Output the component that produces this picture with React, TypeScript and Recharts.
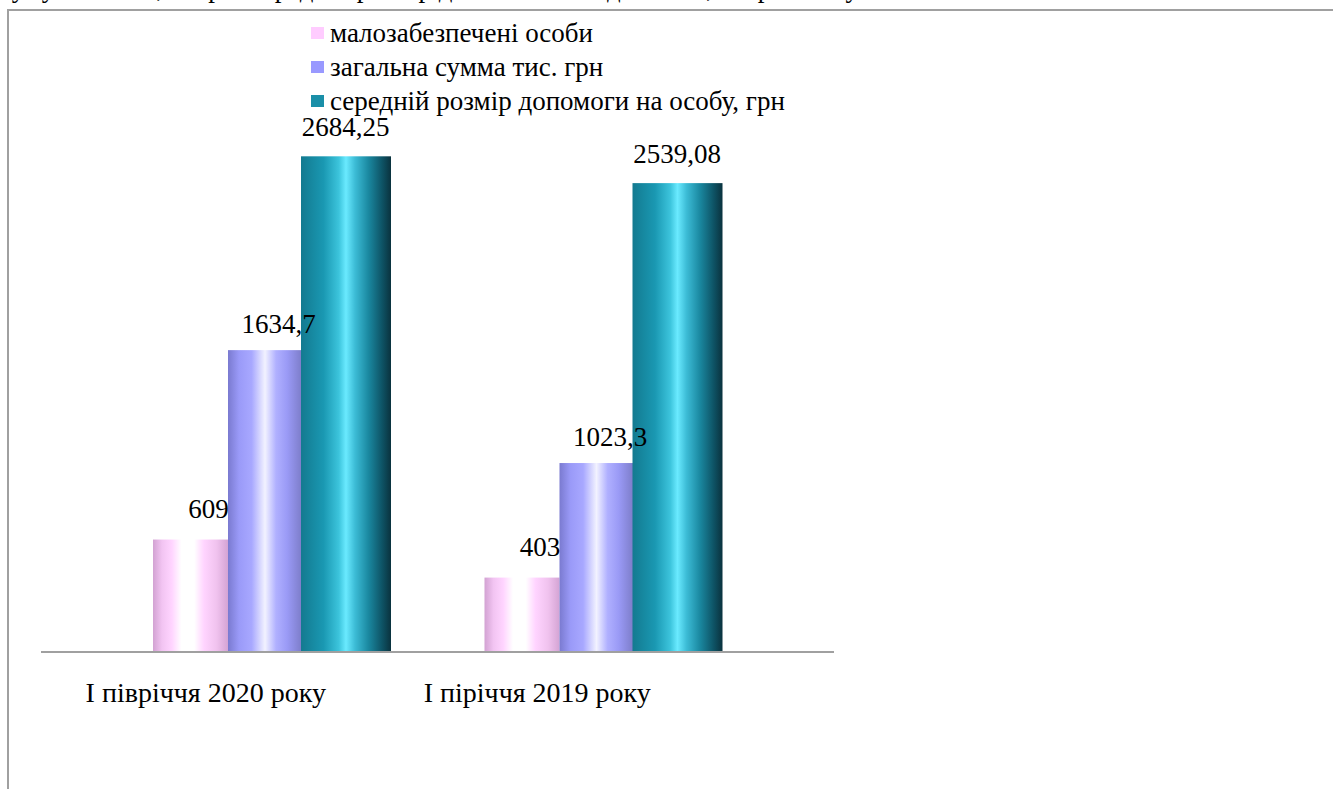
import React from "react";
import { BarChart, Bar, XAxis, YAxis, LabelList } from "recharts";

const categories = ["І півріччя 2020 року", "І піріччя 2019 року"];
const lowIncomePersons = [609, 403];
const totalSumThousands = [1634.7, 1023.3];
const avgAidPerPerson = [2684.25, 2539.08];
const valueLabels = {
  low: ["609", "403"],
  total: ["1634,7", "1023,3"],
  avg: ["2684,25", "2539,08"],
};
const seriesNames = [
  "малозабезпечені особи",
  "загальна сумма тис. грн",
  "середній розмір допомоги на особу, грн",
];
const legendColors = ["#ffccff", "#9999ff", "#1a8fa8"];
const topText = "суму 1634694,20 грн/ середній розмір допомоги складав 2684,25 грн/особу.";

const data = categories.map((c, i) => ({
  name: c,
  low: lowIncomePersons[i],
  total: totalSumThousands[i],
  avg: avgAidPerPerson[i],
  lowLabel: valueLabels.low[i],
  totalLabel: valueLabels.total[i],
  avgLabel: valueLabels.avg[i],
}));

const FONT = "Liberation Serif";

const Tick = (props: any) => {
  const { x, y, payload } = props;
  return (
    <text x={x - 67} y={y + 42} textAnchor="middle" fontFamily={FONT} fontSize={28} fill="#000">
      {payload.value}
    </text>
  );
};

const makeLabel = (dx: number, off: number) => (props: any) => {
  const { x, y, width, value } = props;
  return (
    <text x={x + width / 2 + dx} y={y - off} textAnchor="middle" fontFamily={FONT} fontSize={27} fill="#000">
      {value}
    </text>
  );
};

// column shape with per-series horizontal adjustment (3D-style columns of unequal apparent width)
const makeShape = (shift: number, extra: number, fill: string) => (props: any) => {
  const { x, y, width, height } = props;
  return <rect x={x + shift} y={y} width={width + extra} height={height} fill={fill} />;
};

export default function App() {
  return (
    <div style={{ position: "absolute", left: 0, top: 0, width: 1333, height: 789, overflow: "hidden", background: "#fff" }}>
      <div style={{ position: "absolute", left: 0, top: -27, fontFamily: FONT, fontSize: 27, whiteSpace: "nowrap", color: "#000" }}>
        {topText}
      </div>
      <div style={{ position: "absolute", left: 8, top: 9, width: 1325, height: 0, borderTop: "2px solid #a0a0a0" }} />
      <div style={{ position: "absolute", left: 7, top: 9, width: 0, height: 780, borderLeft: "2px solid #a0a0a0" }} />
      <div style={{ position: "absolute", left: 0, top: 0 }}>
        <BarChart
          width={1333}
          height={789}
          data={data}
          margin={{ top: 98, right: 499, left: 41, bottom: 97 }}
          barCategoryGap={47}
          barGap={0}
        >
          <defs>
            <linearGradient id="gPink" x1="0" y1="0" x2="1" y2="0">
              <stop offset="0" stopColor="#d2a2d2" />
              <stop offset="0.12" stopColor="#f2c4f2" />
              <stop offset="0.25" stopColor="#ffd4ff" />
              <stop offset="0.38" stopColor="#ffffff" />
              <stop offset="0.55" stopColor="#ffffff" />
              <stop offset="0.68" stopColor="#ffd4ff" />
              <stop offset="0.85" stopColor="#f0c2ee" />
              <stop offset="1" stopColor="#d4a4d4" />
            </linearGradient>
            <linearGradient id="gLav" x1="0" y1="0" x2="1" y2="0">
              <stop offset="0" stopColor="#7a7ad0" />
              <stop offset="0.15" stopColor="#9a9af8" />
              <stop offset="0.32" stopColor="#a8a8ff" />
              <stop offset="0.5" stopColor="#f2f2ff" />
              <stop offset="0.65" stopColor="#b0b0ff" />
              <stop offset="0.8" stopColor="#9a9af6" />
              <stop offset="1" stopColor="#7c7cc8" />
            </linearGradient>
            <linearGradient id="gTeal" x1="0" y1="0" x2="1" y2="0">
              <stop offset="0" stopColor="#137a90" />
              <stop offset="0.25" stopColor="#1a98b2" />
              <stop offset="0.42" stopColor="#3cc4dc" />
              <stop offset="0.5" stopColor="#6aeaff" />
              <stop offset="0.6" stopColor="#3cbcd6" />
              <stop offset="0.75" stopColor="#1a88a0" />
              <stop offset="0.9" stopColor="#0e5466" />
              <stop offset="1" stopColor="#0a323e" />
            </linearGradient>
          </defs>
          <XAxis
            dataKey="name"
            height={40}
            padding={{ left: 66, right: 64 }}
            tickLine={false}
            axisLine={{ stroke: "#a0a0a0", strokeWidth: 2 }}
            tick={<Tick />}
            interval={0}
          />
          <YAxis hide domain={[0, 3000]} />
          <Bar dataKey="low" name={seriesNames[0]} fill="url(#gPink)" shape={makeShape(-1, -4, "url(#gPink)")} isAnimationActive={false}>
            <LabelList dataKey="lowLabel" content={makeLabel(15, 22)} />
          </Bar>
          <Bar dataKey="total" name={seriesNames[1]} fill="url(#gLav)" shape={makeShape(-5, -5, "url(#gLav)")} isAnimationActive={false}>
            <LabelList dataKey="totalLabel" content={makeLabel(6, 17)} />
          </Bar>
          <Bar dataKey="avg" name={seriesNames[2]} fill="url(#gTeal)" shape={makeShape(-11, 11, "url(#gTeal)")} isAnimationActive={false}>
            <LabelList dataKey="avgLabel" content={makeLabel(-6, 20)} />
          </Bar>
        </BarChart>
      </div>
      <div style={{ position: "absolute", left: 311, top: 16, fontFamily: FONT, fontSize: 27, color: "#000" }}>
        {seriesNames.map((n, i) => (
          <div key={n} style={{ display: "flex", alignItems: "center", height: 34, whiteSpace: "nowrap" }}>
            <span style={{ display: "inline-block", width: 13, height: 12, background: legendColors[i], marginRight: 6 }} />
            <span>{n}</span>
          </div>
        ))}
      </div>
    </div>
  );
}
